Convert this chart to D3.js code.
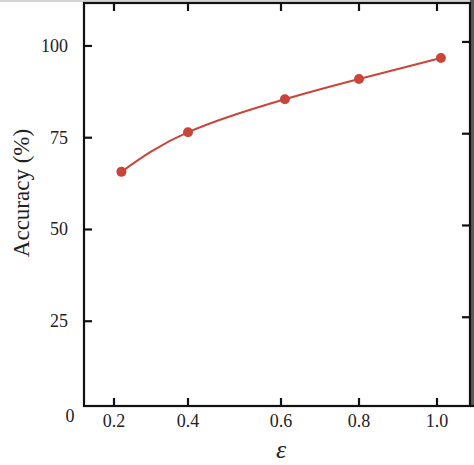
<!DOCTYPE html>
<html>
<head>
<meta charset="utf-8">
<script src="https://cdn.jsdelivr.net/npm/d3@7"></script>
<style>
  body { margin: 0; background: #fff; }
  text { font-family: "Liberation Serif", "Times New Roman", Times, serif; fill: #222; }
</style>
</head>
<body>
<script>
// values
const epsilon = [0.22, 0.40, 0.61, 0.80, 1.01];
const accuracy = [65.7, 76.5, 85.5, 91.0, 96.7];
const xTicks = [0.2, 0.4, 0.6, 0.8, 1.0];
const yTicks = [25, 50, 75, 100];

const w = 474;
const h = 465;
const plotLeft = 84, plotRight = 470, plotTop = 3, plotBottom = 406;

// the printed x axis is a little uneven, so map each tick to where it sits
const xScale = d3.scaleLinear()
  .domain(xTicks)
  .range([114, 188, 281, 359, 437]);

const yScale = d3.scaleLinear()
  .domain([0, 111.7])
  .range([413, plotTop]);

const svg = d3.select("body")
  .append("svg")
  .attr("width", w)
  .attr("height", h);

// scan edges: light strip above the frame, dark one to its right
svg.append("rect")
  .attr("x", 0).attr("y", 0)
  .attr("width", w).attr("height", plotTop - 1)
  .attr("fill", "#d4d4d4");
svg.append("rect")
  .attr("x", plotRight).attr("y", 0)
  .attr("width", w - plotRight).attr("height", plotBottom)
  .attr("fill", "#5a5a5a");

const tickLen = 8;
const frame = svg.append("g")
  .attr("stroke", "#111")
  .attr("stroke-width", 2.2)
  .attr("fill", "none");

frame.append("rect")
  .attr("x", plotLeft)
  .attr("y", plotTop)
  .attr("width", plotRight - plotLeft)
  .attr("height", plotBottom - plotTop);

frame.append("line")
  .attr("x1", plotRight).attr("x2", w)
  .attr("y1", plotBottom).attr("y2", plotBottom);

// ticks on all four sides, pointing inward
frame.selectAll(".xt-bottom")
  .data(xTicks)
  .enter()
  .append("line")
  .attr("x1", d => xScale(d)).attr("x2", d => xScale(d))
  .attr("y1", plotBottom).attr("y2", plotBottom - tickLen);

frame.selectAll(".xt-top")
  .data(xTicks)
  .enter()
  .append("line")
  .attr("x1", d => xScale(d)).attr("x2", d => xScale(d))
  .attr("y1", plotTop).attr("y2", plotTop + tickLen);

frame.selectAll(".yt-left")
  .data(yTicks)
  .enter()
  .append("line")
  .attr("x1", plotLeft).attr("x2", plotLeft + tickLen)
  .attr("y1", d => yScale(d)).attr("y2", d => yScale(d));

frame.selectAll(".yt-right")
  .data(yTicks)
  .enter()
  .append("line")
  .attr("x1", plotRight).attr("x2", plotRight - tickLen)
  .attr("y1", d => yScale(d) - 4).attr("y2", d => yScale(d) - 4);

// tick labels
svg.selectAll(".xlab")
  .data(xTicks)
  .enter()
  .append("text")
  .attr("x", d => xScale(d))
  .attr("y", 427)
  .attr("text-anchor", "middle")
  .attr("font-size", 18)
  .text(d3.format(".1f"));

svg.selectAll(".ylab")
  .data(yTicks)
  .enter()
  .append("text")
  .attr("x", 68)
  .attr("y", d => yScale(d) + 6)
  .attr("text-anchor", "end")
  .attr("font-size", 18)
  .text(d => d);

svg.append("text")
  .attr("x", 70)
  .attr("y", 422)
  .attr("text-anchor", "middle")
  .attr("font-size", 18)
  .text("0");

// axis titles
svg.append("text")
  .attr("transform", "translate(29,193) rotate(-90)")
  .attr("text-anchor", "middle")
  .attr("font-size", 23)
  .text("Accuracy (%)");

svg.append("text")
  .attr("x", 281)
  .attr("y", 458)
  .attr("text-anchor", "middle")
  .attr("font-size", 26)
  .attr("font-style", "italic")
  .text("ε");

// curve and markers
const pts = epsilon.map((e, i) => [e, accuracy[i]]);
const red = "#c9453a";

svg.append("path")
  .datum(pts)
  .attr("fill", "none")
  .attr("stroke", red)
  .attr("stroke-width", 2)
  .attr("d", d3.line()
    .x(d => xScale(d[0]))
    .y(d => yScale(d[1]))
    .curve(d3.curveNatural));

svg.selectAll(".dot")
  .data(pts)
  .enter()
  .append("circle")
  .attr("cx", d => xScale(d[0]))
  .attr("cy", d => yScale(d[1]))
  .attr("r", 5)
  .attr("fill", red);
</script>
</body>
</html>
